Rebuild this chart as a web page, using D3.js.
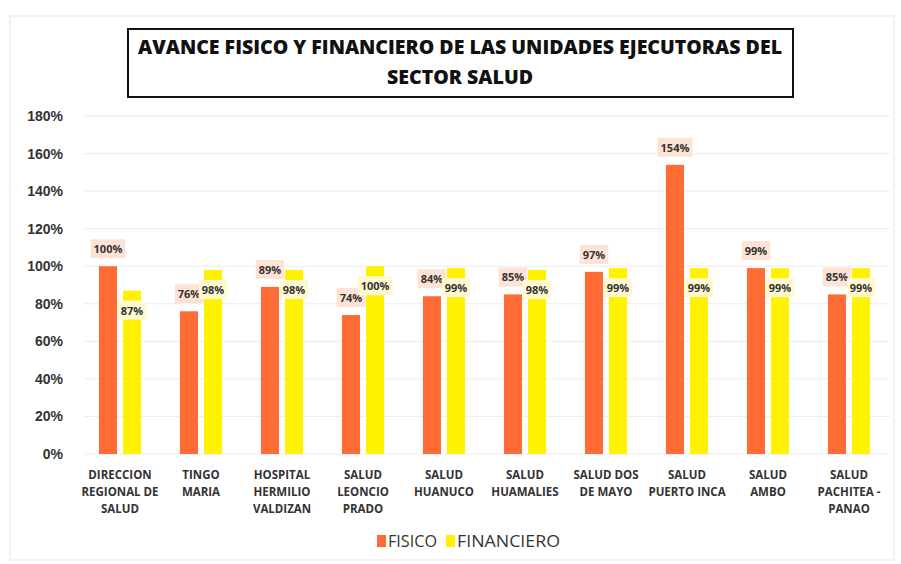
<!DOCTYPE html>
<html>
<head>
<meta charset="utf-8">
<script src="https://cdn.jsdelivr.net/npm/d3@7"></script>
<style>
  body { margin: 0; background: #fff; }
  svg { display: block; font-family: "Open Sans", "Liberation Sans", sans-serif; }
</style>
</head>
<body>
<div id="chart"></div>
<script>
// categories (split in lines as on the axis)
const categories = [
  ["DIRECCION", "REGIONAL DE", "SALUD"],
  ["TINGO", "MARIA"],
  ["HOSPITAL", "HERMILIO", "VALDIZAN"],
  ["SALUD", "LEONCIO", "PRADO"],
  ["SALUD", "HUANUCO"],
  ["SALUD", "HUAMALIES"],
  ["SALUD DOS", "DE MAYO"],
  ["SALUD", "PUERTO INCA"],
  ["SALUD", "AMBO"],
  ["SALUD", "PACHITEA -", "PANAO"]
];
const fisico     = [1.00, 0.76, 0.89, 0.74, 0.84, 0.85, 0.97, 1.54, 0.99, 0.85];
const financiero = [0.87, 0.98, 0.98, 1.00, 0.99, 0.98, 0.99, 0.99, 0.99, 0.99];
const series = ["FISICO", "FINANCIERO"];
const colors = {FISICO: "#ff6b35", FINANCIERO: "#fff200"};
const labelBg = {FISICO: "#fde3d5", FINANCIERO: "#fff8d0"};
const yTicks = [0, 0.2, 0.4, 0.6, 0.8, 1.0, 1.2, 1.4, 1.6, 1.8];

const width = 901, height = 564;
const svg = d3.select('#chart').append('svg')
  .attr('width', width).attr('height', height);

// faint outer frame
svg.append('rect').attr('x', 10).attr('y', 16).attr('width', 884).attr('height', 544)
  .attr('fill', 'none').attr('stroke', '#e4e4ea');

const keys = categories.map((c, i) => 'c' + i);
const x0 = d3.scaleBand().domain(keys).range([79.5, 889.5])
  .paddingInner(0.48).paddingOuter(0.24);
const x1 = d3.scaleBand().domain(series).range([0, x0.bandwidth()]).paddingInner(0.25);
const y = d3.scaleLinear().domain([0, 1.8]).range([454, 116]);

// gridlines
svg.append('g').selectAll('line').data(yTicks).enter().append('line')
  .attr('x1', 84).attr('x2', 890)
  .attr('y1', d => y(d)).attr('y2', d => y(d))
  .attr('stroke', '#ececf0').attr('stroke-width', 1);

// y axis
const yAxis = svg.append('g').attr('transform', 'translate(66,0)')
  .call(d3.axisLeft(y).tickValues(yTicks).tickFormat(d3.format('.0%')).tickSize(0).tickPadding(3));
yAxis.select('.domain').remove();
yAxis.selectAll('text').attr('font-size', 14).attr('fill', '#333')
  .style('font-weight', 600);

const rows = keys.map((k, i) => ({key: k, FISICO: fisico[i], FINANCIERO: financiero[i]}));

const groups = svg.append('g').selectAll('g').data(rows).enter().append('g')
  .attr('transform', d => `translate(${x0(d.key)},0)`);

groups.selectAll('rect').data(d => series.map(s => ({s, v: d[s]}))).enter().append('rect')
  .attr('x', d => x1(d.s)).attr('width', x1.bandwidth())
  .attr('y', d => y(d.v)).attr('height', d => y(0) - y(d.v))
  .attr('fill', d => colors[d.s]);

// data labels: fisico above the bar, financiero just under the top of its bar
function addLabel(g, s, v) {
  const cx = x1(s) + x1.bandwidth() / 2;
  const base = s === 'FISICO' ? y(v) - 13 : y(v) + 24;
  const lg = g.append('g');
  const bg = lg.append('rect').attr('fill', labelBg[s]);
  const t = lg.append('text').attr('x', cx).attr('y', base)
    .attr('text-anchor', 'middle').attr('font-size', 11).attr('font-weight', 'bold')
    .attr('fill', '#333').text(d3.format('.0%')(v));
  const b = t.node().getBBox();
  bg.attr('x', b.x - 3).attr('y', b.y - 2).attr('width', b.width + 6).attr('height', b.height + 4);
}
groups.each(function (d) { addLabel(d3.select(this), 'FISICO', d.FISICO); });
groups.each(function (d) { addLabel(d3.select(this), 'FINANCIERO', d.FINANCIERO); });

// category labels
const catG = svg.append('g');
categories.forEach((lines, i) => {
  const cx = x0(keys[i]) + x0.bandwidth() / 2;
  const t = catG.append('text').attr('text-anchor', 'middle')
    .attr('font-size', 11.5).attr('font-weight', 'bold').attr('fill', '#333');
  lines.forEach((ln, j) => {
    t.append('tspan').attr('x', cx).attr('y', 479 + j * 17).text(ln);
  });
});

// title box
svg.append('rect').attr('x', 128).attr('y', 29).attr('width', 665).attr('height', 68)
  .attr('fill', '#fff').attr('stroke', '#111').attr('stroke-width', 2);
svg.append('text').attr('x', 460).attr('y', 54).attr('text-anchor', 'middle')
  .attr('font-size', 19).attr('font-weight', 800).attr('fill', '#111')
  .attr('textLength', 644).attr('lengthAdjust', 'spacingAndGlyphs')
  .text('AVANCE FISICO Y FINANCIERO DE LAS UNIDADES EJECUTORAS DEL');
svg.append('text').attr('x', 460).attr('y', 84).attr('text-anchor', 'middle')
  .attr('font-size', 19).attr('font-weight', 800).attr('fill', '#111')
  .attr('textLength', 146).attr('lengthAdjust', 'spacingAndGlyphs')
  .text('SECTOR SALUD');

// legend
const legend = svg.append('g').selectAll('g').data(series).enter().append('g')
  .attr('transform', (d, i) => `translate(${i === 0 ? 377 : 446},535)`);
legend.append('rect').attr('width', 9).attr('height', 12).attr('fill', d => colors[d]);
legend.append('text').attr('x', 11).attr('y', 12).attr('font-size', 16)
  .attr('fill', '#333').attr('textLength', d => d === 'FISICO' ? 49 : 103)
  .attr('lengthAdjust', 'spacingAndGlyphs').text(d => d);
</script>
</body>
</html>
